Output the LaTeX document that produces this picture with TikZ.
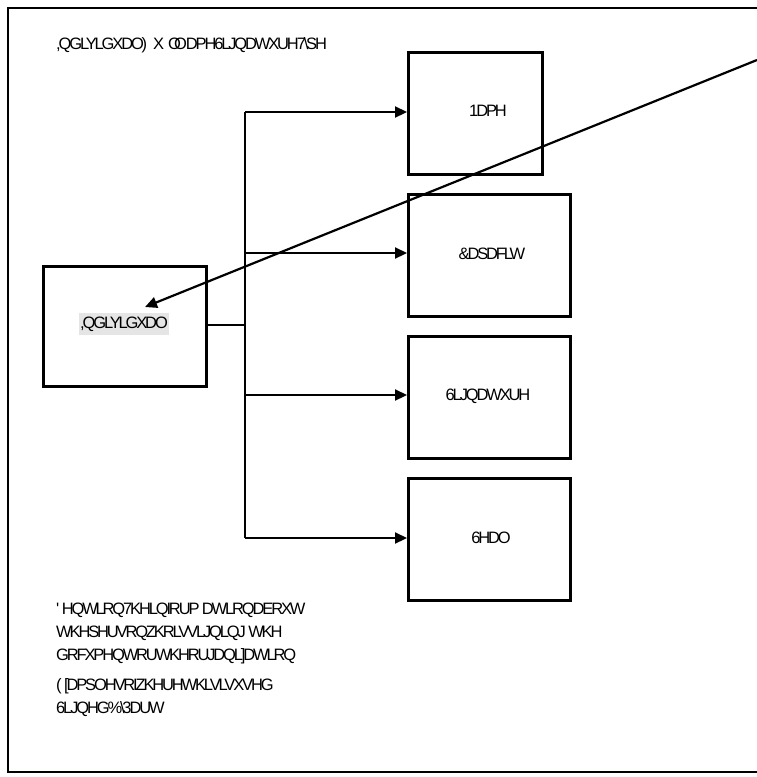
\documentclass[tikz,border=0pt]{standalone}
\usepackage{fontspec}
\usetikzlibrary{arrows.meta}
\newfontfamily\gf[LetterSpace=-13]{Liberation Sans}
\begin{document}
\begin{tikzpicture}[x=1pt,y=-1pt,
  box/.style={draw,line width=2.6pt,anchor=north west,inner sep=0pt},
  lbl/.style={font=\gf\fontsize{16.5}{19}\selectfont,inner sep=0pt},
  txt/.style={font=\gf\fontsize{16.5}{19}\selectfont,inner sep=0pt,anchor=west},
  conn/.style={line width=2.2pt},
  arr/.style={line width=2.2pt,-{Triangle[length=12pt,width=11pt]}}]
\useasboundingbox (0,0) rectangle (757,777);
% frame
\draw[line width=1.1pt] (760,8) -- (8,8) -- (8,772) -- (760,772);
% boxes
\node[box,minimum width=163pt,minimum height=120pt] (ind) at (42,265) {};
\node[box,minimum width=134pt,minimum height=122pt] (name) at (407,51) {};
\node[box,minimum width=162pt,minimum height=122pt] (cap) at (407,193) {};
\node[box,minimum width=162pt,minimum height=122pt] (sig) at (407,335) {};
\node[box,minimum width=162pt,minimum height=122pt] (seal) at (407,477) {};
% labels
\node[lbl,fill=black!10,inner xsep=1pt,inner ysep=4pt] (indl) at (124,324) {,QGLYLGXDO};
\node[lbl] (namel) at (488,111) {1DPH};
\node[lbl] (capl) at (492,254) {\&DSDFLW};
\node[lbl] (sigl) at (488,396) {6LJQDWXUH};
\node[lbl] (seall) at (491,538) {6HDO};
\node[txt] (title) at (56,45) {,QGLYLGXDO)\hspace{6pt}X\hspace{4pt}O\kern-7pt O\kern-1pt DPH6LJQDWXUH7\textbackslash SH};
\node[txt] (t1) at (56,610) {\char39\ HQWLRQ7KHLQIRUP DWLRQDERXW};
\node[txt] (t2) at (56,633) {WKHSHUVRQZKRLVVLJQLQJ WKH};
\node[txt] (t3) at (56,656) {GRFXPHQWRUWKHRUJDQL]DWLRQ};
\node[txt] (t4) at (56,686) {( [DPSOHVRIZKHUHWKLVLVXVHG};
\node[txt] (t5) at (56,709) {6LJQHG\%\textbackslash 3DUW};
% connectors
\coordinate (j) at (245,325);
\coordinate (top) at (245,112);
\coordinate (bot) at (245,538);
\draw[conn] (ind.east |- j) -- (j);
\draw[conn] (top) -- (bot);
\draw[arr] (top) -- (name.west |- top);
\draw[arr] (245,253) -- (cap.west |- 0,253);
\draw[arr] (245,395) -- (sig.west |- 0,395);
\draw[arr] (bot) -- (seal.west |- bot);
\coordinate (far) at (757,60);
\draw[arr] (far) -- (145,307);
\end{tikzpicture}
\end{document}
